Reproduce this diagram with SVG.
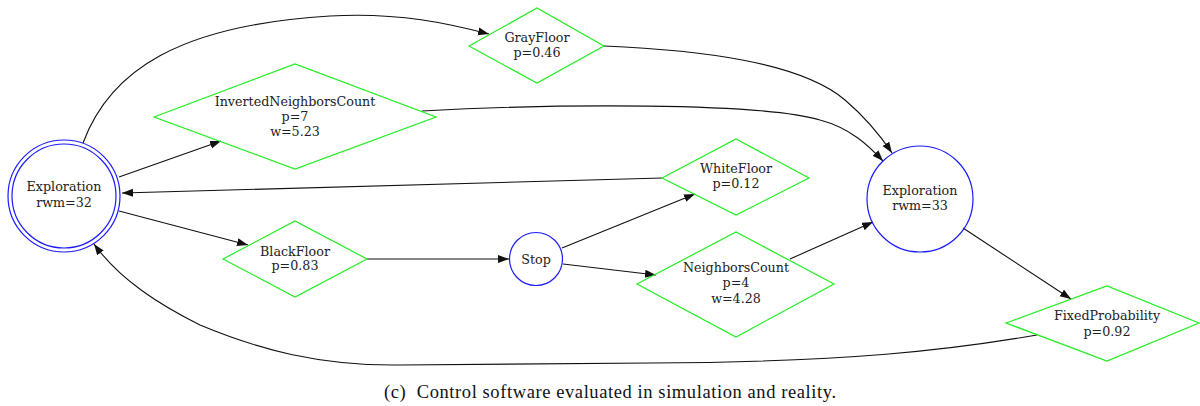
<svg xmlns="http://www.w3.org/2000/svg" width="1200" height="406" viewBox="0 0 1200 406">
  <style>
    .lbl { font-family: "DejaVu Serif", serif; font-size: 12.7px; fill: #222; text-anchor: middle; }
    .cond { fill: none; stroke: #22ee22; stroke-width: 1.2; }
    .state { fill: none; stroke: #1a1aff; stroke-width: 1.2; }
    .edge { fill: none; stroke: #111; stroke-width: 1.1; marker-end: url(#arrow); }
    .caption { font-family: "Liberation Serif", serif; font-size: 18.5px; fill: #111; }
  </style>
  <defs>
    <marker id="arrow" markerUnits="userSpaceOnUse" markerWidth="14" markerHeight="10" refX="11" refY="4" orient="auto">
      <path d="M0,0 L11,4 L0,8 Z" fill="#111"/>
    </marker>
  </defs>
  <rect width="1200" height="406" fill="#fff"/>

  <!-- transitions -->
  <g id="edges">
    <path class="edge" d="M83,143 C110,70 180,25 330,16 C400,12 450,24 489,34"/>
    <path class="edge" d="M119,177 L221,141"/>
    <path class="edge" d="M662,178 L122,193"/>
    <path class="edge" d="M119,211 L248,245"/>
    <path class="edge" d="M367,259 L509,259"/>
    <path class="edge" d="M562,248 L695,194"/>
    <path class="edge" d="M563,264 L656,275"/>
    <path class="edge" d="M790,259 L873,222"/>
    <path class="edge" d="M604,46 C700,50 800,62 845,100 C865,117 880,135 892,153"/>
    <path class="edge" d="M422,111 C550,104 760,102 820,120 C850,128 868,145 883,161"/>
    <path class="edge" d="M963,228 L1071,299"/>
    <path class="edge" d="M1037,335 C950,350 850,362 650,363 L400,365 C320,366 260,350 200,325 C160,305 120,280 94,244"/>
  </g>

  <g id="exploration32">
    <circle class="state" cx="64" cy="196" r="56"/>
    <circle class="state" cx="64" cy="196" r="52"/>
    <text class="lbl" x="64" y="191">Exploration</text>
    <text class="lbl" x="64" y="207">rwm=32</text>
  </g>

  <g id="grayfloor">
    <polygon class="cond" points="469,46 537,8 604,46 537,83"/>
    <text class="lbl" x="537" y="42">GrayFloor</text>
    <text class="lbl" x="537" y="57">p=0.46</text>
  </g>

  <g id="invertedneighborscount">
    <polygon class="cond" points="154,117 295,64 436,117 295,169"/>
    <text class="lbl" x="295" y="106">InvertedNeighborsCount</text>
    <text class="lbl" x="295" y="121">p=7</text>
    <text class="lbl" x="295" y="136">w=5.23</text>
  </g>

  <g id="whitefloor">
    <polygon class="cond" points="662,178 736,139 809,178 736,215"/>
    <text class="lbl" x="736" y="173">WhiteFloor</text>
    <text class="lbl" x="736" y="188">p=0.12</text>
  </g>

  <g id="blackfloor">
    <polygon class="cond" points="223,259 295,221 367,259 295,297"/>
    <text class="lbl" x="295" y="256">BlackFloor</text>
    <text class="lbl" x="295" y="270">p=0.83</text>
  </g>

  <g id="stop">
    <circle class="state" cx="536" cy="259" r="26.5"/>
    <text class="lbl" x="536" y="263.5">Stop</text>
  </g>

  <g id="neighborscount">
    <polygon class="cond" points="637,284 736,232 834,284 736,337"/>
    <text class="lbl" x="736" y="272">NeighborsCount</text>
    <text class="lbl" x="736" y="287">p=4</text>
    <text class="lbl" x="736" y="303">w=4.28</text>
  </g>

  <g id="exploration33">
    <circle class="state" cx="920" cy="199" r="53"/>
    <text class="lbl" x="920" y="195">Exploration</text>
    <text class="lbl" x="920" y="210">rwm=33</text>
  </g>

  <g id="fixedprobability">
    <polygon class="cond" points="1006,323 1107,286 1199,323 1107,361"/>
    <text class="lbl" x="1107" y="320">FixedProbability</text>
    <text class="lbl" x="1107" y="336">p=0.92</text>
  </g>

  <text class="caption" x="384" y="398" textLength="452" lengthAdjust="spacing" xml:space="preserve">(c)  Control software evaluated in simulation and reality.</text>
</svg>
